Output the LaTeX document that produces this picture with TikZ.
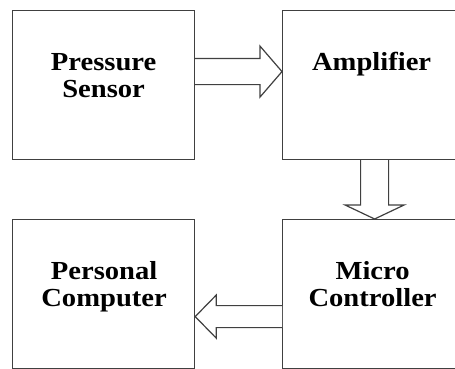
\documentclass[tikz,border=0pt]{standalone}
\usepackage{fontspec}
\setmainfont{Liberation Serif}
\usetikzlibrary{calc}
\definecolor{edge}{HTML}{404040}
\tikzset{
  blockbox/.style={draw=edge, line width=1.2pt, minimum width=182pt, minimum height=149pt, inner sep=0pt, anchor=north west},
  blocktext/.style={font=\bfseries\fontsize{26}{27}\selectfont, align=center, inner sep=0pt, xscale=1.1, transform shape},
  fatarrow/.style={draw=edge, line width=1.2pt, line join=miter, fill=white}
}
\begin{document}
\begin{tikzpicture}[x=1pt,y=-1pt]
\useasboundingbox (0,0) rectangle (455,369);
\node[blockbox] (ps) at (12,10) {};
\node[blockbox] (amp) at (282,10) {};
\node[blockbox] (pc) at (12,219) {};
\node[blockbox] (mc) at (282,219) {};
\node[blocktext] (pst) at ($(ps.center)+(0,-9.5)$) {Pressure\\Sensor};
\node[blocktext] (ampt) at ($(amp.center)+(-2,-20.5)$) {Amplifier};
\node[blocktext] (pct) at ($(pc.center)+(0.5,-7)$) {Personal\\Computer};
\node[blocktext] (mct) at ($(mc.center)+(-1,-10)$) {Micro\\Controller};
% arrow 1: ps -> amp
\coordinate (a1s) at ($(ps.east)+(0,-13.5)$);
\coordinate (a1e) at ($(amp.west)+(0,-13.5)$);
\draw[fatarrow] ($(a1s)+(0,-13)$) -- ($(a1e)+(-22,-13)$) -- ($(a1e)+(-22,-25.5)$) -- (a1e)
  -- ($(a1e)+(-22,25.5)$) -- ($(a1e)+(-22,13)$) -- ($(a1s)+(0,13)$);
% arrow 2: amp -> mc
\coordinate (a2s) at ($(amp.south)+(1,0)$);
\coordinate (a2e) at ($(mc.north)+(1,0)$);
\draw[fatarrow] ($(a2s)+(-14,0)$) -- ($(a2e)+(-14,-14)$) -- ($(a2e)+(-29.5,-14)$) -- (a2e)
  -- ($(a2e)+(29.5,-14)$) -- ($(a2e)+(14,-14)$) -- ($(a2s)+(14,0)$);
% arrow 3: mc -> pc
\coordinate (a3s) at ($(mc.west)+(0,22.5)$);
\coordinate (a3e) at ($(pc.east)+(0,22.5)$);
\draw[fatarrow] ($(a3s)+(0,-11)$) -- ($(a3e)+(21,-11)$) -- ($(a3e)+(21,-21.5)$) -- (a3e)
  -- ($(a3e)+(21,21.5)$) -- ($(a3e)+(21,11)$) -- ($(a3s)+(0,11)$);
\end{tikzpicture}
\end{document}
